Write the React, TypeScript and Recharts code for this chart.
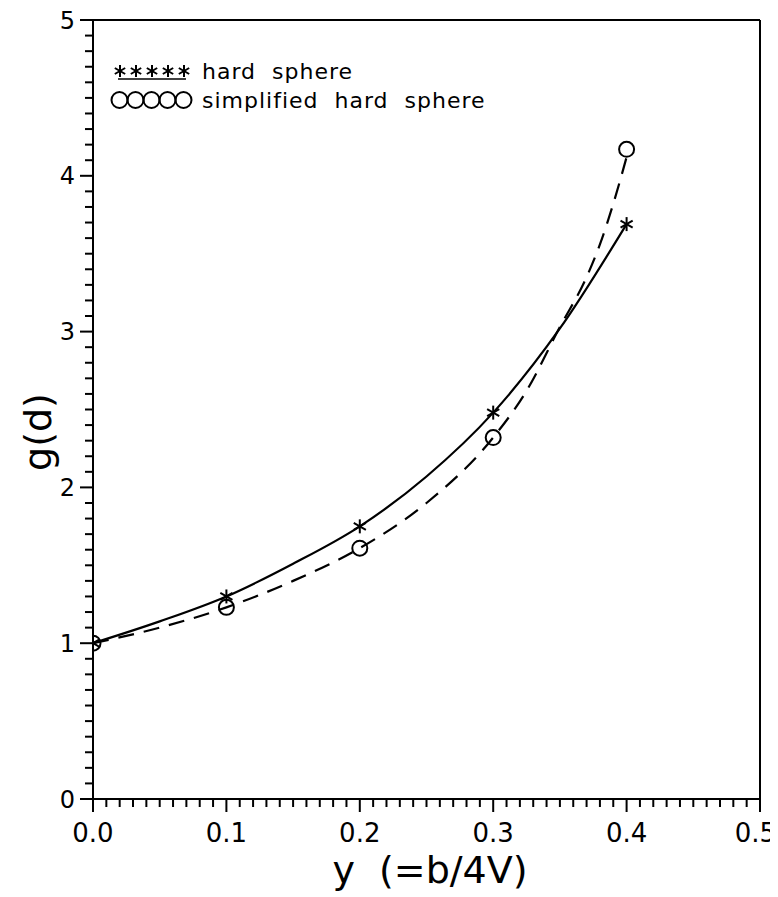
import React from "react";
import {
  ComposedChart,
  Line,
  XAxis,
  YAxis,
  ReferenceLine,
} from "recharts";

// packing fraction y at the marker points
const yPoints = [0, 0.1, 0.2, 0.3, 0.4];
const hardSphere = [1.0, 1.3, 1.75, 2.48, 3.69];
const simplified = [1.0, 1.23, 1.61, 2.32, 4.17];

// curves
const hardCurveY = [0, 0.05, 0.1, 0.15, 0.2, 0.25, 0.3, 0.35, 0.4];
const hardCurveG = [1.0, 1.14, 1.3, 1.51, 1.75, 2.07, 2.48, 3.02, 3.69];
const simpCurveY = [0, 0.05, 0.1, 0.15, 0.2, 0.25, 0.3, 0.325, 0.35, 0.37, 0.38, 0.39, 0.4];
const simpCurveG = [1.0, 1.1, 1.23, 1.4, 1.61, 1.9, 2.32, 2.62, 3.03, 3.35, 3.56, 3.82, 4.12];

const xMajor = [0, 0.1, 0.2, 0.3, 0.4, 0.5];

const FONT = "'DejaVu Sans', sans-serif";

const zip = (xs: number[], gs: number[]) => xs.map((x, i) => ({ x, g: gs[i] }));
const hardPts = zip(yPoints, hardSphere);
const simpPts = zip(yPoints, simplified);
const hardCurve = zip(hardCurveY, hardCurveG);
const simpCurve = zip(simpCurveY, simpCurveG);

const xTicks = Array.from({ length: 51 }, (_, i) => i / 100);
const yTicks = Array.from({ length: 51 }, (_, i) => i / 10);

const Star = ({ cx, cy, r = 7 }: { cx: number; cy: number; r?: number }) => {
  const dx = r * Math.cos(Math.PI / 6);
  const dy = r * Math.sin(Math.PI / 6);
  return (
    <g stroke="#000" strokeWidth={2}>
      <line x1={cx} y1={cy - r} x2={cx} y2={cy + r} />
      <line x1={cx - dx} y1={cy - dy} x2={cx + dx} y2={cy + dy} />
      <line x1={cx - dx} y1={cy + dy} x2={cx + dx} y2={cy - dy} />
    </g>
  );
};

const Ring = ({ cx, cy }: { cx: number; cy: number }) => (
  <circle cx={cx} cy={cy} r={7.5} fill="none" stroke="#000" strokeWidth={2} />
);

const YTick = (props: any) => {
  const { x, y, payload } = props;
  const v = payload.value;
  const major = Math.abs(v - Math.round(v)) < 1e-6;
  return (
    <g>
      <line x1={x} x2={x - (major ? 13 : 8)} y1={y} y2={y} stroke="#000" strokeWidth={2} />
      {major && (
        <text x={x - 18} y={y} dy="0.36em" textAnchor="end" fontSize={24} fontFamily={FONT} fill="#000">
          {Math.round(v)}
        </text>
      )}
    </g>
  );
};

const XTick = (props: any) => {
  const { x, y, payload } = props;
  const v = payload.value;
  const major = xMajor.some((m) => Math.abs(m - v) < 1e-6);
  const last = Math.abs(v - 0.5) < 1e-6;
  return (
    <g>
      <line x1={x} x2={x} y1={y} y2={y + (major ? 13 : 8)} stroke="#000" strokeWidth={2} />
      {major && (
        <text
          x={last ? x + 16 : x}
          y={y + 43}
          textAnchor={last ? "end" : "middle"}
          fontSize={26}
          fontFamily={FONT}
          fill="#000"
        >
          {v.toFixed(1)}
        </text>
      )}
    </g>
  );
};

const Legend = () => {
  const cols = [112, 128, 144, 160, 176];
  return (
    <svg
      width={770}
      height={140}
      style={{ position: "absolute", left: 0, top: 0, pointerEvents: "none" }}
    >
      {cols.map((c) => (
        <Star key={"s" + c} cx={c} cy={63} r={6} />
      ))}
      <line x1={110} x2={178} y1={71} y2={71} stroke="#000" strokeWidth={1.5} />
      <text x={194} y={71} fontSize={22} fontFamily={FONT} letterSpacing={1} style={{ whiteSpace: "pre" }}>
        {"hard  sphere"}
      </text>
      {cols.map((c) => (
        <circle key={"c" + c} cx={c - 0.5} cy={92} r={8} fill="none" stroke="#000" strokeWidth={2} />
      ))}
      <text x={194} y={100} fontSize={22} fontFamily={FONT} letterSpacing={1} style={{ whiteSpace: "pre" }}>
        {"simplified  hard  sphere"}
      </text>
    </svg>
  );
};

export default function App() {
  return (
    <div style={{ position: "relative", width: 770, height: 889, background: "#fff" }}>
      <ComposedChart
        width={770}
        height={889}
        margin={{ top: 12, right: 18, bottom: 0, left: 0 }}
      >
        <XAxis
          dataKey="x"
          type="number"
          domain={[0, 0.5]}
          ticks={xTicks}
          interval={0}
          tickLine={false}
          tickSize={0}
          tickMargin={0}
          tick={<XTick />}
          height={98}
          axisLine={{ stroke: "#000", strokeWidth: 2 }}
          allowDataOverflow
        />
        <YAxis
          type="number"
          domain={[0, 5]}
          ticks={yTicks}
          interval={0}
          tickLine={false}
          tickSize={0}
          tickMargin={0}
          tick={<YTick />}
          width={85}
          axisLine={{ stroke: "#000", strokeWidth: 2 }}
          allowDataOverflow
        />
        <ReferenceLine y={5} stroke="#000" strokeWidth={2} ifOverflow="visible" />
        <ReferenceLine x={0.5} stroke="#000" strokeWidth={2} ifOverflow="visible" />
        <Line
          data={hardCurve}
          dataKey="g"
          type="monotone"
          stroke="#000"
          strokeWidth={2.2}
          dot={false}
          isAnimationActive={false}
        />
        <Line
          data={simpCurve}
          dataKey="g"
          type="monotone"
          stroke="#000"
          strokeWidth={2.2}
          strokeDasharray="16 10"
          dot={false}
          isAnimationActive={false}
        />
        <Line
          data={hardPts}
          dataKey="g"
          stroke="none"
          dot={(p: any) => <Star key={"hs" + p.index} cx={p.cx} cy={p.cy} />}
          isAnimationActive={false}
        />
        <Line
          data={simpPts}
          dataKey="g"
          stroke="none"
          dot={(p: any) => <Ring key={"sh" + p.index} cx={p.cx} cy={p.cy} />}
          isAnimationActive={false}
        />
      </ComposedChart>
      <Legend />
      <div
        style={{
          position: "absolute",
          left: 0,
          top: 840,
          width: 844,
          textAlign: "center",
          fontFamily: FONT,
          fontSize: 38,
          whiteSpace: "pre",
          lineHeight: "44px",
        }}
      >
        {"y  (=b/4V)"}
      </div>
      <div
        style={{
          position: "absolute",
          left: 30,
          top: 424,
          transform: "translate(-50%, -50%) rotate(-90deg)",
          fontFamily: FONT,
          fontSize: 38,
          whiteSpace: "pre",
          lineHeight: "44px",
        }}
      >
        {"g(d)"}
      </div>
    </div>
  );
}
